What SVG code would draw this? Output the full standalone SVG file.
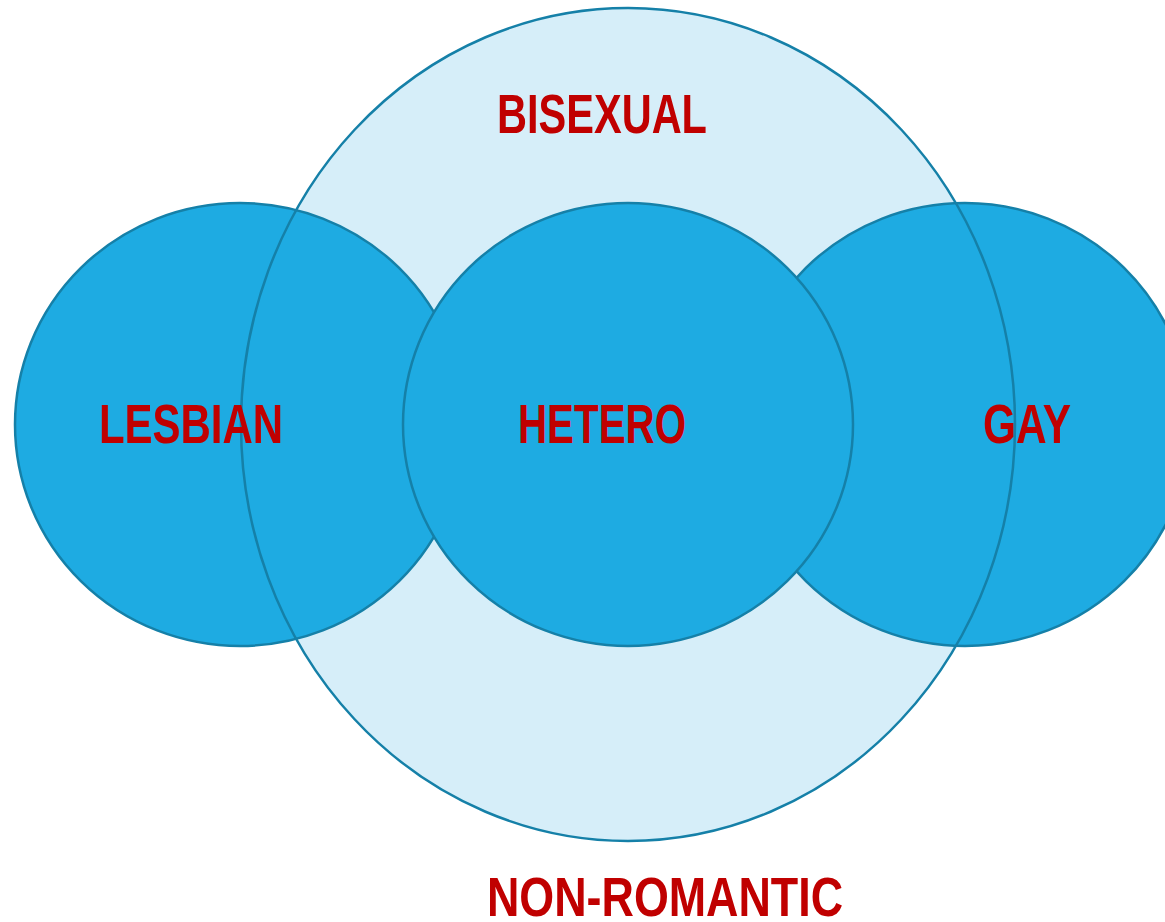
<svg xmlns="http://www.w3.org/2000/svg" width="1165" height="922" viewBox="0 0 1165 922">
<style>
.big{fill:#d6eef9;stroke:none}
.ring{fill:none;stroke:#1580a8;stroke-width:2.5}
.c{fill:#1eabe2;stroke:#1580a8;stroke-width:2.5}
.t{font-family:"Liberation Sans","DejaVu Sans",sans-serif;font-weight:bold;font-size:56px;fill:#c00000}
</style>
<rect width="1165" height="922" fill="#ffffff"/>
<g id="bisexual">
<ellipse class="big" cx="628" cy="424.5" rx="387" ry="416.5"/>
</g>
<g id="lesbian">
<ellipse class="c" cx="240" cy="424.5" rx="225" ry="221.5"/>
</g>
<g id="gay">
<ellipse class="c" cx="965" cy="424.5" rx="225" ry="221.5"/>
</g>
<g id="hetero">
<ellipse class="c" cx="628" cy="424.5" rx="225" ry="221.5"/>
</g>
<g id="bisexual-outline">
<ellipse class="ring" cx="628" cy="424.5" rx="387" ry="416.5"/>
</g>
<g id="labels">
<text class="t" x="497" y="133" textLength="210" lengthAdjust="spacingAndGlyphs">BISEXUAL</text>
<text class="t" x="99" y="443" textLength="184" lengthAdjust="spacingAndGlyphs">LESBIAN</text>
<text class="t" x="518" y="443" textLength="168" lengthAdjust="spacingAndGlyphs">HETERO</text>
<text class="t" x="983" y="443" textLength="88" lengthAdjust="spacingAndGlyphs">GAY</text>
<text class="t" x="487" y="916" textLength="356" lengthAdjust="spacingAndGlyphs">NON-ROMANTIC</text>
</g>
</svg>
